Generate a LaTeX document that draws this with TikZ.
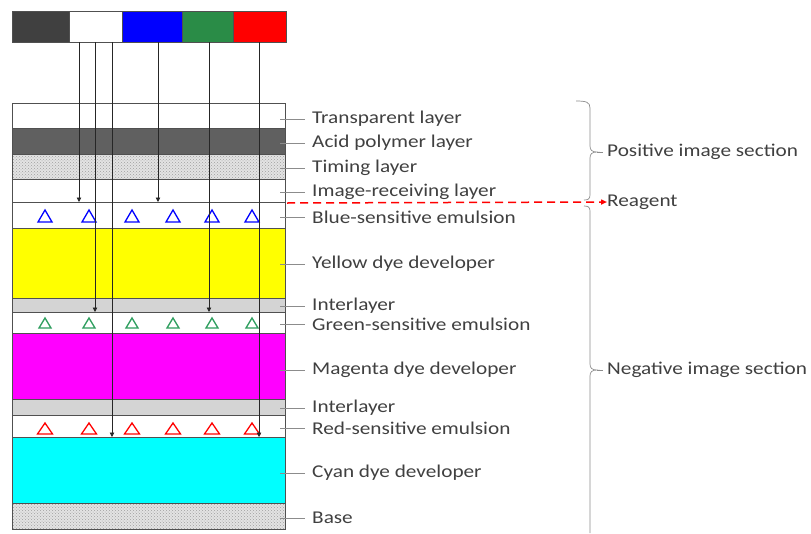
\documentclass[tikz,border=0pt]{standalone}
\usepackage{fontspec}
\setmainfont{Carlito}[FakeStretch=1.18]
\usetikzlibrary{patterns,arrows.meta}
\definecolor{txt}{HTML}{404040}
\definecolor{edge}{HTML}{505050}
\definecolor{acid}{HTML}{606060}
\definecolor{inter}{HTML}{D4D4D4}
\definecolor{barblack}{HTML}{404040}
\definecolor{barblue}{HTML}{0000FF}
\definecolor{bargreen}{HTML}{2A8C47}
\definecolor{barred}{HTML}{FF0000}
\definecolor{ylw}{HTML}{FFFF00}
\definecolor{mag}{HTML}{FF00FF}
\definecolor{cyn}{HTML}{00FFFF}
\definecolor{brace}{HTML}{8C8C8C}
\definecolor{trigreen}{HTML}{2E9E5E}
\begin{document}
\begin{tikzpicture}[x=1pt,y=-1pt,
  layerbox/.style={draw=edge,line width=1pt},
  dotted layer/.style={layerbox,pattern=crosshatch dots,pattern color=gray!75},
  ray/.style={line width=0.8pt,black!85,-{Triangle[length=4.5pt,width=4.5pt]}},
  tick/.style={draw=brace,line width=0.6pt},
  lbl/.style={anchor=west,inner sep=0pt,text=txt,font=\fontsize{18}{21}\selectfont},
  bracepath/.style={draw=brace,line width=0.7pt},
  tri/.style={line width=1.3pt,line join=miter}
]
\useasboundingbox (0,0) rectangle (811,533);

% colour bar
\fill[barblack] (12,11) rectangle (69,42);
\fill[white] (69,11) rectangle (122,42);
\fill[barblue] (122,11) rectangle (182,42);
\fill[bargreen] (182,11) rectangle (233,42);
\fill[barred] (233,11) rectangle (286,42);
\draw[edge,line width=0.8pt] (12,11) rectangle (286,42);
\draw[edge,line width=0.6pt] (69,11)--(69,42) (122,11)--(122,42) (182,11)--(182,42) (233,11)--(233,42);

% layers
\draw[layerbox,fill=white] (12,103) rectangle (285,128);
\draw[layerbox,fill=acid] (12,128) rectangle (285,154);
\fill[gray!22] (12,154) rectangle (285,179);
\draw[dotted layer] (12,154) rectangle (285,179);
\draw[layerbox,fill=white] (12,179) rectangle (285,202);
\draw[layerbox,fill=white] (12,202) rectangle (285,228);
\draw[layerbox,fill=ylw] (12,228) rectangle (285,298);
\draw[layerbox,fill=inter] (12,298) rectangle (285,312);
\draw[layerbox,fill=white] (12,312) rectangle (285,333);
\draw[layerbox,fill=mag] (12,333) rectangle (285,399);
\draw[layerbox,fill=inter] (12,399) rectangle (285,415);
\draw[layerbox,fill=white] (12,415) rectangle (285,437);
\draw[layerbox,fill=cyn] (12,437) rectangle (285,503);
\fill[gray!22] (12,503) rectangle (285,529);
\draw[dotted layer] (12,503) rectangle (285,529);

% triangles
\foreach \x in {45,89,132,173,212,252}{
  \draw[tri,blue] (\x-7,222) -- (\x,210) -- (\x+7,222) -- cycle;
  \draw[tri,trigreen] (\x-6,328) -- (\x,318) -- (\x+6,328) -- cycle;
  \draw[tri,red] (\x-7.5,434) -- (\x,423) -- (\x+7.5,434) -- cycle;
}

% light rays
\foreach \x/\y in {79/202,95/312,112/437,158/202,209/312,259/437}{
  \coordinate (s\x) at (\x,42);
  \coordinate (e\x) at (\x,\y);
  \draw[ray] (s\x) -- (e\x);
}

% labels
\foreach \n/\y/\t in {a/119/Transparent layer,b/143/Acid polymer layer,c/168/Timing layer,
  d/192/Image-receiving layer,e/217/Blue-sensitive emulsion,f/264/Yellow dye developer,
  g/306/Interlayer,h/324/Green-sensitive emulsion,i/370/Magenta dye developer,
  j/408/Interlayer,k/428/Red-sensitive emulsion,l/473/Cyan dye developer,m/518/Base}{
  \coordinate (p\n) at (280,\y);
  \node[lbl] (l\n) at (312,\y) {\t};
  \draw[tick] (p\n) -- (305,\y);
}

% braces
\draw[bracepath] (576,101) .. controls (586,101) and (590,102) .. (590,108)
  -- (590,146) .. controls (590,150) and (592,152) .. (597,152)
  .. controls (592,152) and (590,154) .. (590,158)
  -- (590,195) .. controls (590,199) and (588,200) .. (584,200);
\draw[bracepath] (584,206) .. controls (588,206) and (590,207) .. (590,211)
  -- (590,364) .. controls (590,368) and (592,370) .. (597,370)
  .. controls (592,370) and (590,372) .. (590,376)
  -- (590,533);
\coordinate (tp) at (597,152);
\coordinate (tn) at (597,370);
\draw[tick] (tp) -- (603,152);
\draw[tick] (tn) -- (603,370);
\node[lbl] (pos) at (607,152) {Positive image section};
\node[lbl] (neg) at (607,370) {Negative image section};

% reagent
\coordinate (r0) at (287,203);
\node[lbl] (reag) at (607,202) {Reagent};
\draw[red,line width=1.5pt,dash pattern=on 8pt off 5pt,-{Triangle[length=6pt,width=5pt]}] (r0) -- (reag.west);
\end{tikzpicture}
\end{document}
